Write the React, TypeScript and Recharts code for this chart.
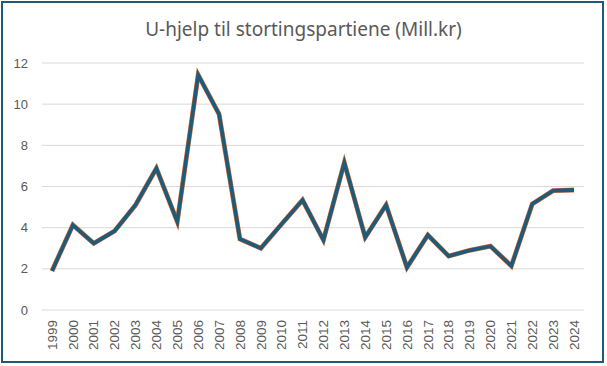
import { LineChart, Line, XAxis, YAxis, CartesianGrid } from 'recharts';

const years = [
  '1999', '2000', '2001', '2002', '2003', '2004', '2005', '2006', '2007', '2008',
  '2009', '2010', '2011', '2012', '2013', '2014', '2015', '2016', '2017', '2018',
  '2019', '2020', '2021', '2022', '2023', '2024',
];
const support = [
  1.9, 4.13, 3.24, 3.84, 5.1, 6.88, 4.29, 11.42, 9.52, 3.45,
  3.0, 4.18, 5.34, 3.4, 7.16, 3.53, 5.1, 2.07, 3.64, 2.62,
  2.9, 3.1, 2.14, 5.15, 5.8, 5.83,
];
const yTicks = [0, 2, 4, 6, 8, 10, 12];

const data = years.map((year, i) => ({ year, value: support[i] }));

const textColor = '#595959';

function YearTick({ x, y, payload }: any) {
  return (
    <g transform={`translate(${x},${y})`}>
      <text
        transform="rotate(-90)"
        textAnchor="end"
        dy="0.35em"
        fill={textColor}
        fontSize={13.5}
        fontFamily="Liberation Sans, Arial, sans-serif"
      >
        {payload.value}
      </text>
    </g>
  );
}

export default function App() {
  return (
    <div style={{ position: 'absolute', left: 0, top: 0, width: 607, height: 366, background: '#fff' }}>
      <div
        style={{
          position: 'absolute',
          left: 1,
          top: 1,
          width: 603,
          height: 362,
          border: '2px solid #1f5a78',
          boxSizing: 'border-box',
        }}
      />
      <div
        style={{
          position: 'absolute',
          left: 0,
          top: 16,
          width: 607,
          textAlign: 'center',
          fontFamily: 'Noto Sans, sans-serif',
          fontSize: 19,
          color: textColor,
          lineHeight: '26px',
        }}
      >
        U-hjelp til stortingspartiene (Mill.kr)
      </div>
      <div style={{ position: 'absolute', left: 0, top: 0 }}>
        <LineChart
          width={607}
          height={366}
          data={data}
          margin={{ top: 63, right: 23, left: 0, bottom: 0 }}
        >
          <CartesianGrid vertical={false} stroke="#d9d9d9" />
          <XAxis
            dataKey="year"
            height={56}
            interval={0}
            padding={{ left: 10, right: 10 }}
            axisLine={false}
            tickLine={false}
            tickSize={0}
            tickMargin={10}
            tick={<YearTick />}
          />
          <YAxis
            width={42}
            domain={[0, 12]}
            ticks={yTicks}
            axisLine={false}
            tickLine={false}
            tickSize={0}
            tickMargin={14}
            tick={{ fill: textColor, fontSize: 13, fontFamily: 'Liberation Sans, Arial, sans-serif' }}
          />
          <Line
            dataKey="value"
            stroke="#e97132"
            strokeWidth={4.8}
            dot={false}
            isAnimationActive={false}
            strokeLinejoin="miter"
          />
          <Line
            dataKey="value"
            stroke="#1f5a78"
            strokeWidth={3.8}
            dot={false}
            isAnimationActive={false}
            strokeLinejoin="miter"
          />
        </LineChart>
      </div>
    </div>
  );
}
